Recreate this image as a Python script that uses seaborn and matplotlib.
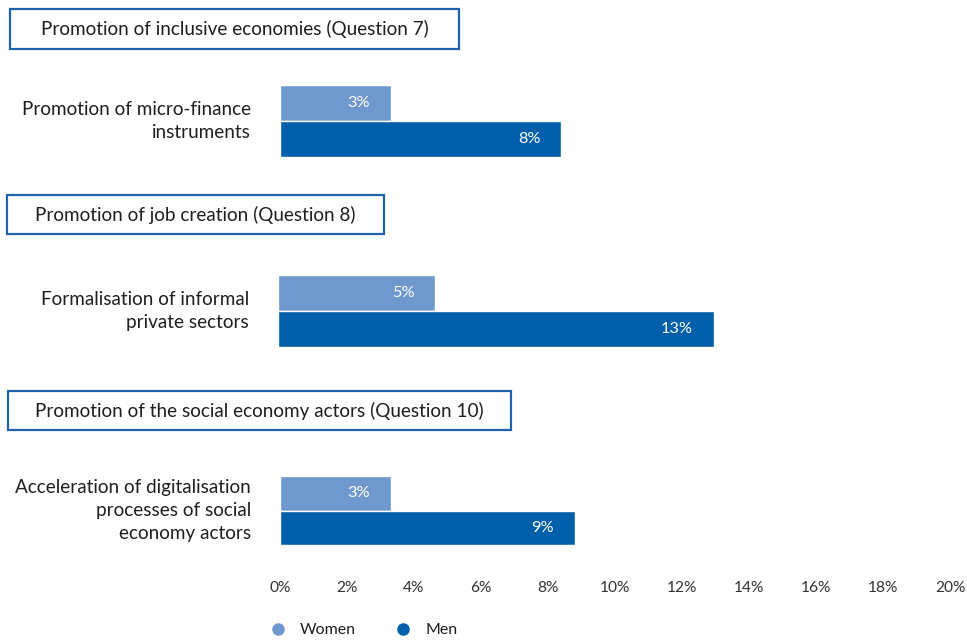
import matplotlib
matplotlib.use("Agg")
import matplotlib.pyplot as plt
from matplotlib.patches import Rectangle
from matplotlib.lines import Line2D
import seaborn as sns
import pandas as pd

sections = [
    "Promotion of inclusive economies (Question 7)",
    "Promotion of job creation (Question 8)",
    "Promotion of the social economy actors (Question 10)",
]
categories = [
    "Promotion of micro-finance\ninstruments",
    "Formalisation of informal\nprivate sectors",
    "Acceleration of digitalisation\nprocesses of social\neconomy actors",
]
groups = ["Women", "Men"]
women = [3.3, 4.7, 3.3]
men = [8.4, 13.0, 8.8]
x_ticks = [0, 2, 4, 6, 8, 10, 12, 14, 16, 18, 20]

colors = {"Women": "#6f98cf", "Men": "#005fab"}
box_color = "#2063ad"
text_color = "#1f1f1f"

sns.set_style("white")
plt.rcParams["font.family"] = ["Lato", "DejaVu Sans"]

W, H = 967, 640
fig = plt.figure(figsize=(W / 100, H / 100), dpi=100)


def px_axes(left, top, right, bottom):
    return fig.add_axes([left / W, 1 - bottom / H, (right - left) / W, (bottom - top) / H])


# pixel frames: bar areas and section header boxes
bar_frames = [(280, 85, 950, 157), (278, 275, 948, 347), (280, 476, 950, 545)]
box_frames = [(10, 9, 459, 49), (7, 195, 384, 234), (8, 391, 511, 430)]

for i, (cat, w, m) in enumerate(zip(categories, women, men)):
    df = pd.DataFrame({"category": [cat, cat], "group": groups, "share": [w, m]})
    ax = px_axes(*bar_frames[i])
    sns.barplot(data=df, x="share", y="category", hue="group", hue_order=groups,
                palette=colors, orient="y", width=0.8, saturation=1,
                legend=False, ax=ax)
    ax.set_xlim(0, 20)
    ax.set_ylim(0.4, -0.4)
    ax.set_xlabel("")
    ax.set_ylabel("")
    for s in ax.spines.values():
        s.set_visible(False)
    ax.tick_params(axis="y", length=0, pad=21, labelsize=13.6, labelcolor=text_color)
    for lab in ax.get_yticklabels():
        lab.set_linespacing(1.42)
        lab.set_verticalalignment("center")
    for container in ax.containers:
        for bar in container:
            v = bar.get_width()
            ax.annotate(f"{v:.0f}%", xy=(v, bar.get_y() + bar.get_height() / 2),
                        xytext=(-15, 0), textcoords="offset points",
                        ha="right", va="center", color="white", fontsize=11.8)
    if i == len(categories) - 1:
        ax.set_xticks(x_ticks)
        ax.set_xticklabels([f"{t}%" for t in x_ticks])
        ax.tick_params(axis="x", length=0, pad=26, labelsize=11.2, labelcolor="#333333")
    else:
        ax.set_xticks([])

    # section header box
    l, t, r, b = box_frames[i]
    fig.patches.append(Rectangle((l / W, 1 - b / H), (r - l) / W, (b - t) / H,
                                 transform=fig.transFigure, facecolor="white",
                                 edgecolor=box_color, linewidth=1.6))
    fig.text((l + r) / 2 / W, 1 - (t + b) / 2 / H, sections[i], ha="center",
             va="center", fontsize=13.6, color=text_color)

handles = [Line2D([], [], marker="o", linestyle="", markersize=8,
                  markerfacecolor=colors[g], markeredgecolor=colors[g]) for g in groups]
fig.legend(handles, groups, loc="center left", bbox_to_anchor=(270 / W, 1 - 630 / H),
           ncol=2, frameon=False, fontsize=11.5, handlelength=1.0, handletextpad=0.85,
           borderpad=0, borderaxespad=0, columnspacing=2.5, labelcolor=text_color)

fig.savefig("out.png", dpi=100)
